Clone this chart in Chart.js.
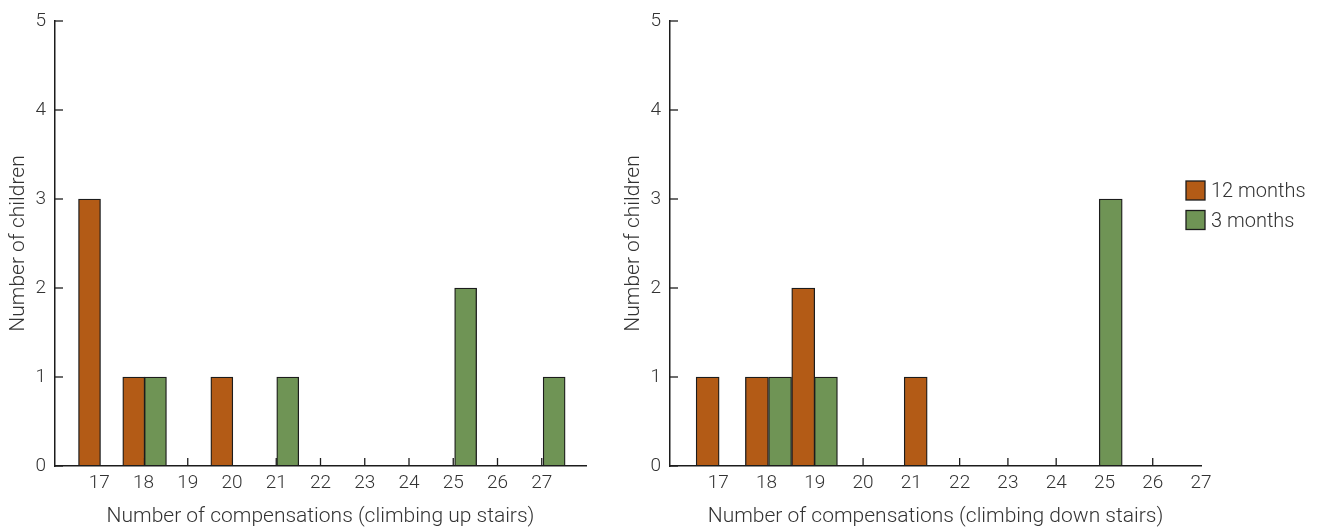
<!DOCTYPE html>
<html><head><meta charset="utf-8">
<script src="https://cdn.jsdelivr.net/npm/chart.js@4/dist/chart.umd.min.js"></script>
<style>
html,body{margin:0;padding:0;background:#fff;}
#wrap{position:relative;width:1328px;height:531px;overflow:hidden;}
.c{position:absolute;top:0;height:531px;}
#left{left:0;width:600px;}
#right{left:615px;width:713px;}
</style></head><body>
<div id="wrap"><div class="c" id="left"><canvas id="c1"></canvas></div><div class="c" id="right"><canvas id="c2"></canvas></div></div>
<script>
// ---- data ----
const seriesNames = ['12 months', '3 months'];
const seriesColors = ['#B35B16', '#6F9455'];
// climbing up stairs (bar centres on the x scale, counts)
const upX12 = [16.78, 17.78, 19.77];
const upY12 = [3, 1, 1];
const upX3 = [18.27, 21.26, 25.28, 27.28];
const upY3 = [1, 1, 2, 1];
// climbing down stairs
const downX12 = [16.78, 17.80, 18.76, 21.09];
const downY12 = [1, 1, 2, 1];
const downX3 = [18.28, 19.23, 25.13];
const downY3 = [1, 1, 3];
// ticks
const xTickValues = [17, 18, 19, 20, 21, 22, 23, 24, 25, 26, 27];
const yTickValues = [0, 1, 2, 3, 4, 5];
const yTitle = 'Number of children';
const upTitle = 'Number of compensations (climbing up stairs)';
const downTitle = 'Number of compensations (climbing down stairs)';

const FONT = 'Roboto, "Open Sans", sans-serif';
const TXT = '#333333';
const EDGE = '#1c1c1c';

function pts(xs, ys) { return xs.map((x, i) => ({x: x, y: ys[i]})); }

const insideTicks = {
  id: 'insideTicks',
  beforeDatasetsDraw(chart) {
    const ctx = chart.ctx, xs = chart.scales.x, ys = chart.scales.y;
    const a = chart.chartArea;
    ctx.save();
    ctx.strokeStyle = EDGE;
    ctx.lineWidth = 1.3;
    xs.ticks.forEach(t => {
      if (t.value >= xs.max) return;
      const p = xs.getPixelForValue(t.value);
      ctx.beginPath(); ctx.moveTo(p, a.bottom); ctx.lineTo(p, a.bottom - 8); ctx.stroke();
    });
    ys.ticks.forEach(t => {
      const p = ys.getPixelForValue(t.value);
      ctx.beginPath(); ctx.moveTo(a.left, p); ctx.lineTo(a.left + 8, p); ctx.stroke();
    });
    ctx.restore();
  }
};

const customLegend = {
  id: 'customLegend',
  afterDraw(chart, args, opts) {
    if (!opts.show) return;
    const ctx = chart.ctx;
    const x0 = chart.chartArea.right - 15;
    let y = 181;
    ctx.save();
    chart.data.datasets.forEach(ds => {
      ctx.fillStyle = ds.backgroundColor;
      ctx.fillRect(x0, y, 19, 19);
      ctx.strokeStyle = EDGE; ctx.lineWidth = 1.3;
      ctx.strokeRect(x0, y, 19, 19);
      ctx.fillStyle = TXT;
      ctx.font = '300 20px ' + FONT;
      ctx.textBaseline = 'middle';
      ctx.textAlign = 'left';
      ctx.fillText(ds.label, x0 + 25, y + 11);
      y += 29.5;
    });
    ctx.restore();
  }
};

function makeChart(id, xs12, ys12, xs3, ys3, xmin, xmax, xTitle, padRight, barW, legend) {
  return new Chart(document.getElementById(id), {
    type: 'bar',
    data: {
      datasets: [
        {label: seriesNames[0], data: pts(xs12, ys12), backgroundColor: seriesColors[0], borderColor: EDGE, borderWidth: 1.3, borderSkipped: false, barThickness: barW, grouped: false},
        {label: seriesNames[1], data: pts(xs3, ys3), backgroundColor: seriesColors[1], borderColor: EDGE, borderWidth: 1.3, borderSkipped: false, barThickness: barW, grouped: false}
      ]
    },
    options: {
      responsive: true, maintainAspectRatio: false, animation: false,
      layout: {padding: {left: 0, top: 21, right: padRight, bottom: 0}},
      plugins: {legend: {display: false}, tooltip: {enabled: false}, customLegend: {show: legend}},
      scales: {
        x: {
          type: 'linear', min: xmin, max: xmax, offset: false,
          afterBuildTicks: s => { s.ticks = xTickValues.filter(v => v >= xmin && v <= xmax).map(v => ({value: v})); },
          afterFit: s => { s.height = 65; },
          grid: {display: false, drawTicks: false, offset: false},
          border: {display: true, color: EDGE, width: 1.5},
          ticks: {color: TXT, font: {family: FONT, size: 19, weight: 300}, padding: 6, maxRotation: 0, autoSkip: false},
          title: {display: true, text: xTitle, color: TXT, font: {family: FONT, size: 21, weight: 300}, padding: {top: 0, bottom: 2}}
        },
        y: {
          min: 0, max: 5,
          afterBuildTicks: s => { s.ticks = yTickValues.map(v => ({value: v})); },
          afterFit: s => { s.width = 55; },
          grid: {display: false, drawTicks: false},
          border: {display: true, color: EDGE, width: 1.5},
          ticks: {color: TXT, font: {family: FONT, size: 19, weight: 300}, padding: 9},
          title: {display: true, text: yTitle, color: TXT, font: {family: FONT, size: 21, weight: 300}, padding: {top: 6, bottom: 0}}
        }
      }
    },
    plugins: [insideTicks, customLegend]
  });
}

makeChart('c1', upX12, upY12, upX3, upY3, 16, 28, upTitle, 14, 22, false);
makeChart('c2', downX12, downY12, downX3, downY3, 16, 27, downTitle, 127, 23, true);
</script>
</body></html>
